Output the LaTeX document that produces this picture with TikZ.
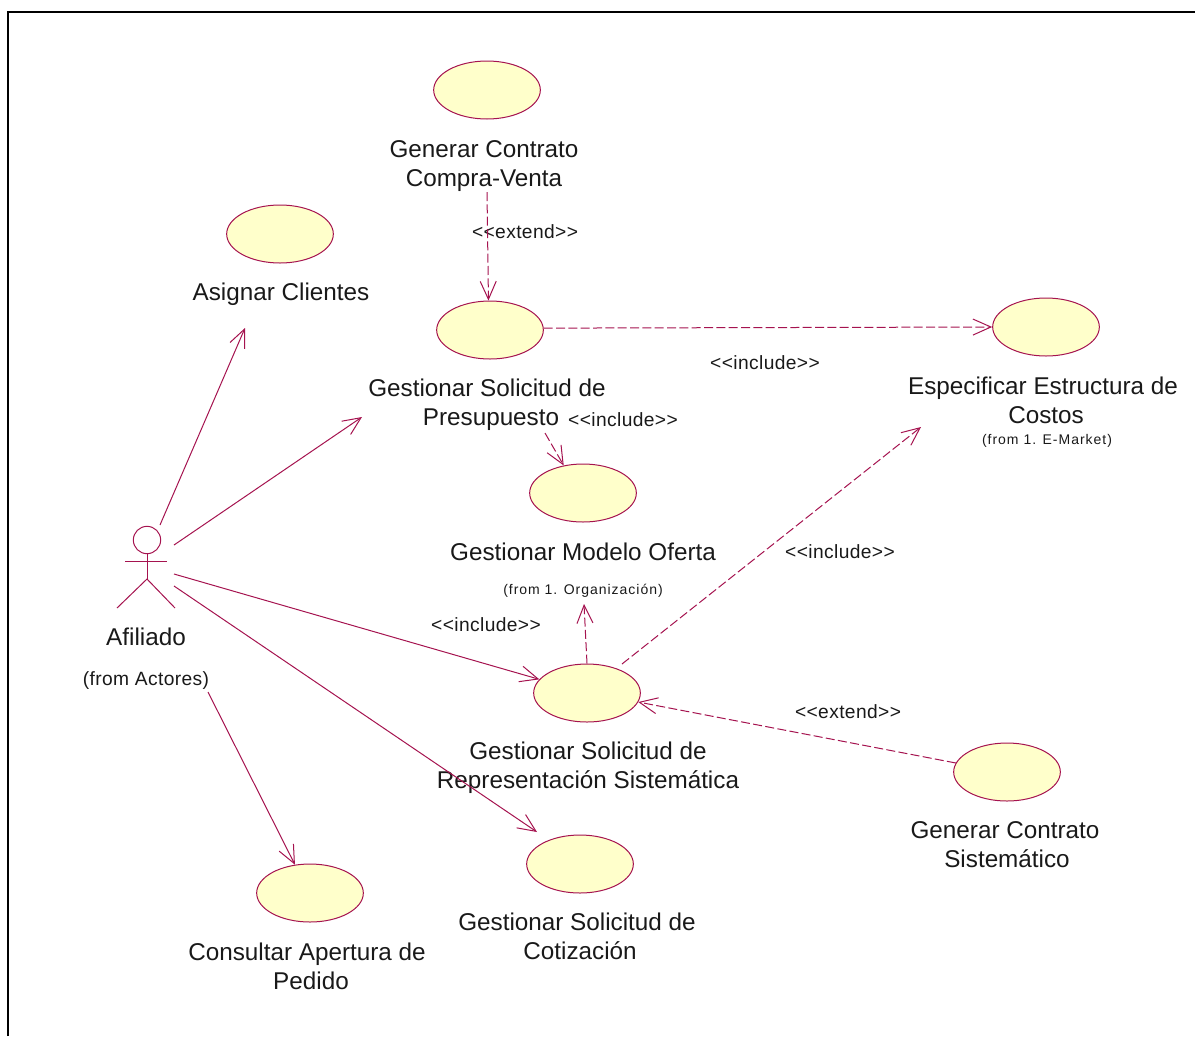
\documentclass[tikz,border=0pt]{standalone}
\usepackage{xcolor}
\usepackage{fontspec}
\setmainfont{Liberation Sans}
\usetikzlibrary{shapes.geometric,arrows.meta}
\definecolor{umlline}{HTML}{A5134F}
\definecolor{umlfill}{HTML}{FFFFCB}
\tikzset{
  usecase/.style={draw=umlline,fill=umlfill,ellipse,line width=0.75pt,minimum width=80pt,minimum height=43.5pt,inner sep=0pt},
  bigtext/.style={font=\fontsize{18.2}{21.8}\selectfont,align=center,inner sep=0pt,text=black!90},
  midtext/.style={font=\fontsize{14.4}{16}\selectfont\addfontfeature{LetterSpace=2},inner sep=0pt,text=black!90},
  smalltext/.style={font=\fontsize{10.5}{12}\selectfont\addfontfeature{LetterSpace=7},inner sep=0pt,text=black!90},
  assoc/.style={draw=umlline,line width=0.75pt,-{Straight Barb[length=13.5pt,width=12pt]}},
  dep/.style={assoc,dash pattern=on 6.75pt off 2.5pt},
  limb/.style={draw=umlline,line width=0.75pt}
}
\begin{document}
\begin{tikzpicture}[x=0.75pt,y=-0.75pt]
  \useasboundingbox (0,0) rectangle (1195,1036);
  % Frame, open on the right and at the bottom
  \draw[black,line width=1.5pt] (8,1036) -- (8,11.5) -- (1195,11.5);

  % Actor
  \node[draw=umlline,circle,line width=0.75pt,minimum size=20.5pt,inner sep=0pt] (head) at (147,540) {};
  \coordinate (hip) at (147,579);
  \coordinate (armL) at (125,561);
  \coordinate (armR) at (167,561);
  \coordinate (footL) at (117,608);
  \coordinate (footR) at (175,608);
  \draw[limb] (head.south) -- (hip);
  \draw[limb] (armL) -- (armR);
  \draw[limb] (footL) -- (hip) -- (footR);
  \node[bigtext] (afiliado) at (146,637) {Afiliado};
  \node[midtext] (fromActores) at (146,681) {(from Actores)};

  % Use cases
  \node[usecase] (contrato) at (487,90) {};
  \node[usecase] (asignar) at (280,234) {};
  \node[usecase] (presupuesto) at (490,330) {};
  \node[usecase] (costos) at (1046,327) {};
  \node[usecase] (modelo) at (583,493) {};
  \node[usecase] (sistematica) at (587,693) {};
  \node[usecase] (sistematico) at (1007,772) {};
  \node[usecase] (cotizacion) at (580,864) {};
  \node[usecase] (apertura) at (310,893) {};

  % Use case names
  \node[bigtext] (lblContrato) at (484,166) {Generar Contrato\\Compra-Venta};
  \node[bigtext] (lblAsignar) at (281,294) {Asignar Clientes};
  \node[bigtext] (lblPresupuesto) at (487,405) {Gestionar Solicitud de\\\hspace*{6pt}Presupuesto};
  \node[bigtext] (lblCostos) at (1043,400) {Especificar Estructura de\\\hspace*{4.5pt}Costos};
  \node[smalltext] (fromMarket) at (1047,441) {(from 1. E-Market)};
  \node[bigtext] (lblModelo) at (583,552) {Gestionar Modelo Oferta};
  \node[smalltext] (fromOrg) at (583,591) {(from 1. Organización)};
  \node[bigtext] (lblSistematica) at (588,768) {Gestionar Solicitud de\\Representación Sistemática};
  \node[bigtext] (lblSistematico) at (1005,845) {Generar Contrato\\\hspace*{3pt}Sistemático};
  \node[bigtext] (lblCotizacion) at (577,936) {Gestionar Solicitud de\\\hspace*{4.5pt}Cotización};
  \node[bigtext] (lblApertura) at (307,966) {Consultar Apertura de\\\hspace*{6pt}Pedido};

  % Stereotypes
  \node[midtext] (extA) at (525,232) {{<}{<}extend{>}{>}};
  \node[midtext] (incA) at (765,363) {{<}{<}include{>}{>}};
  \node[midtext] (incB) at (623,420) {{<}{<}include{>}{>}};
  \node[midtext] (incC) at (840,552) {{<}{<}include{>}{>}};
  \node[midtext] (incD) at (486,625) {{<}{<}include{>}{>}};
  \node[midtext] (extB) at (848,712) {{<}{<}extend{>}{>}};

  % Ends of the connectors
  \coordinate (actA) at (160,525);
  \coordinate (actB) at (174,545);
  \coordinate (actC) at (174,574);
  \coordinate (actD) at (174,586);
  \coordinate (actE) at (208,692);
  \coordinate (asignarEnd) at (245,328);
  \coordinate (presupuestoEnd) at (362,417);
  \coordinate (cotizacionEnd) at (537,832);
  \coordinate (contratoStart) at (487,192);
  \coordinate (presupuestoStart) at (545,433);
  \coordinate (costosEnd) at (921,427);
  \coordinate (orgEnd) at (584,604);
  \coordinate (sistematicaStart) at (622,664);

  \draw[assoc] (actA) -- (asignarEnd);
  \draw[assoc] (actB) -- (presupuestoEnd);
  \draw[assoc] (actC) -- (sistematica.164);
  \draw[assoc] (actD) -- (cotizacionEnd);
  \draw[assoc] (actE) -- (apertura.118);

  \draw[dep] (contratoStart) -- (presupuesto.93);
  \draw[dep] (presupuesto.2) -- (costos.west);
  \draw[dep] (presupuestoStart) -- (modelo.125);
  \draw[dep] (sistematica.north) -- (orgEnd);
  \draw[dep] (sistematicaStart) -- (costosEnd);
  \draw[dep] (sistematico.170) -- (sistematica.-10);
\end{tikzpicture}
\end{document}
